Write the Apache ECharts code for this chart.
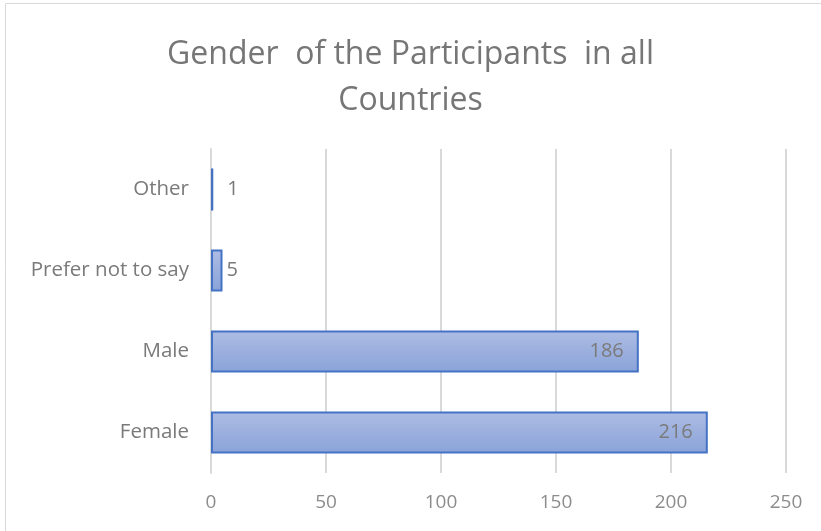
<!DOCTYPE html>
<html><head><meta charset="utf-8">
<script src="https://cdn.jsdelivr.net/npm/echarts@6/dist/echarts.min.js"></script>
<style>html,body{margin:0;padding:0;background:#fff}#c{width:821px;height:531px}</style>
</head><body><div id="c"></div>
<script>
const categories = ['Female', 'Male', 'Prefer not to say', 'Other'];
const values = [216, 186, 5, 1];
const xTicks = [0, 50, 100, 150, 200, 250];

const chart = echarts.init(document.getElementById('c'), null, {renderer: 'canvas'});
const FONT = 'Open Sans';
chart.setOption({
  animation: false,
  backgroundColor: '#fff',
  title: {
    text: 'Gender  of the Participants  in all\nCountries',
    left: 'center', top: 27,
    textStyle: {fontFamily: FONT, fontSize: 32, fontWeight: 'normal', color: '#767676', lineHeight: 46}
  },
  graphic: [{type: 'rect', shape: {x: 5.5, y: 3.5, width: 830, height: 540}, style: {fill: 'none', stroke: '#d9d9d9', lineWidth: 1}, silent: true}],
  grid: {left: 211, right: 35, top: 149, bottom: 58},
  xAxis: {
    type: 'value', min: xTicks[0], max: xTicks[xTicks.length - 1], interval: 50,
    axisLine: {show: false}, axisTick: {show: false},
    splitLine: {lineStyle: {color: '#d9d9d9', width: 2}},
    axisLabel: {fontFamily: FONT, fontSize: 19, color: '#8c8c8c', margin: 20}
  },
  yAxis: {
    type: 'category', data: categories,
    axisLine: {show: true, lineStyle: {color: '#d9d9d9', width: 2}},
    axisTick: {show: false},
    axisLabel: {fontFamily: FONT, fontSize: 20.5, color: '#7a7a7a', margin: 22}
  },
  series: [{
    type: 'bar', barCategoryGap: '48%',
    data: values.map(v => v < 20 ? {value: v, label: {position: 'right', distance: v < 3 ? 14 : 4}} : v),
    itemStyle: {
      color: new echarts.graphic.LinearGradient(0, 0, 0, 1, [
        {offset: 0, color: '#adbce3'}, {offset: 1, color: '#8aa3d9'}
      ]),
      borderColor: '#4472c4', borderWidth: 2
    },
    label: {
      show: true, fontFamily: FONT, fontSize: 20, color: '#7a7a7a',
      position: 'insideRight', distance: 15
    }
  }]
});
</script></body></html>
